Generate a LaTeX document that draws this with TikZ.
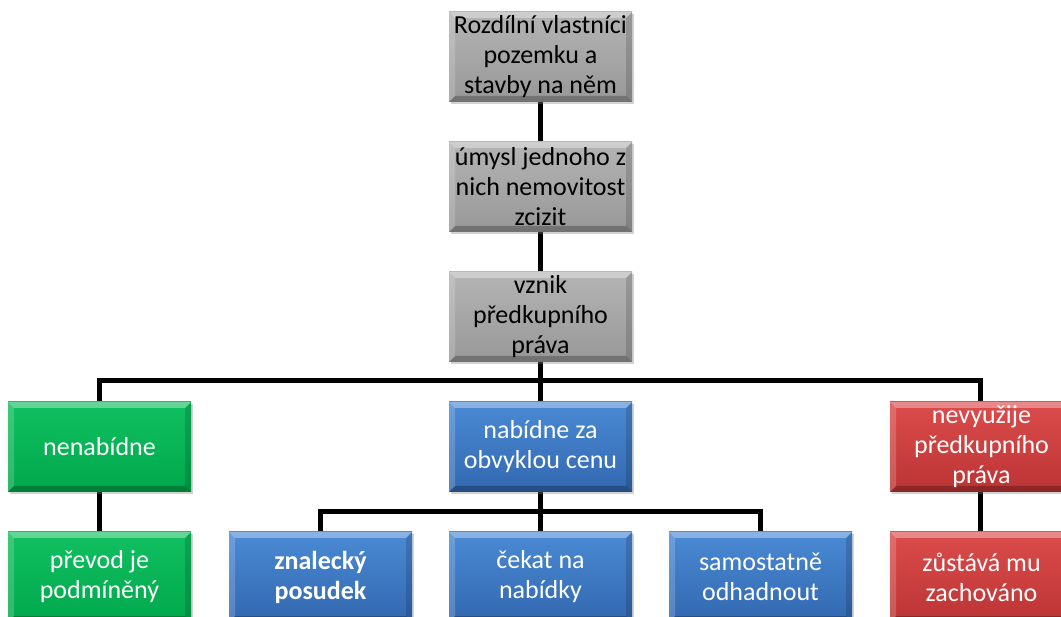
\documentclass[tikz,border=0pt]{standalone}
\usepackage{fontspec}
\setmainfont{Carlito}
\usetikzlibrary{shadows}
\definecolor{grayA}{HTML}{B4B4B4}
\definecolor{grayB}{HTML}{989898}
\definecolor{greenA}{HTML}{10C060}
\definecolor{greenB}{HTML}{00A84C}
\definecolor{blueA}{HTML}{4A8AD4}
\definecolor{blueB}{HTML}{3268B0}
\definecolor{redA}{HTML}{DC4C4C}
\definecolor{redB}{HTML}{BC3434}
\tikzset{
  bevel/.style={path picture={
    \fill[white,opacity=0.35] (path picture bounding box.north west) -- (path picture bounding box.north east)
      -- ([xshift=-6pt,yshift=-6pt]path picture bounding box.north east) -- ([xshift=6pt,yshift=-6pt]path picture bounding box.north west) -- cycle;
    \fill[white,opacity=0.18] (path picture bounding box.north west) -- (path picture bounding box.south west)
      -- ([xshift=6pt,yshift=6pt]path picture bounding box.south west) -- ([xshift=6pt,yshift=-6pt]path picture bounding box.north west) -- cycle;
    \fill[black,opacity=0.25] (path picture bounding box.south west) -- (path picture bounding box.south east)
      -- ([xshift=-6pt,yshift=6pt]path picture bounding box.south east) -- ([xshift=6pt,yshift=6pt]path picture bounding box.south west) -- cycle;
    \fill[black,opacity=0.15] (path picture bounding box.north east) -- (path picture bounding box.south east)
      -- ([xshift=-6pt,yshift=6pt]path picture bounding box.south east) -- ([xshift=-6pt,yshift=-6pt]path picture bounding box.north east) -- cycle;
  }},
  box/.style={rectangle, minimum width=183pt, minimum height=90pt, inner sep=2pt, align=center,
    font=\fontsize{26}{30}\selectfont, bevel,
    drop shadow={opacity=0.35, shadow xshift=1.5pt, shadow yshift=-2.5pt}},
  graybox/.style={box, top color=grayA, bottom color=grayB, text=black},
  greenbox/.style={box, top color=greenA, bottom color=greenB, text=white},
  bluebox/.style={box, top color=blueA, bottom color=blueB, text=white},
  redbox/.style={box, top color=redA, bottom color=redB, text=white},
  conn/.style={line width=5pt, black}
}
\begin{document}
\begin{tikzpicture}[x=1pt,y=-1pt]
\clip (0,0) rectangle (1061,617);
\fill[white] (0,0) rectangle (1061,617);
% connector coordinates
\coordinate (h1l) at (99.5,381);
\coordinate (h1r) at (980,381);
\coordinate (h1m) at (540.5,381);
\coordinate (h2l) at (320.5,512);
\coordinate (h2r) at (760.5,512);
\coordinate (h2m) at (540.5,512);
% connectors drawn first (behind boxes)
\draw[conn] (540.5,57) -- (540.5,187);
\draw[conn] (540.5,187) -- (540.5,317);
\draw[conn] (540.5,317) -- (h1m);
\draw[conn] (99.5,447) -- (h1l) -- (h1r) -- (980,447);
\draw[conn] (h1m) -- (540.5,447);
\draw[conn] (99.5,447) -- (99.5,577);
\draw[conn] (980,447) -- (980,577);
\draw[conn] (540.5,447) -- (h2m);
\draw[conn] (320.5,577) -- (h2l) -- (h2r) -- (760.5,577);
\draw[conn] (h2m) -- (540.5,577);
% nodes
\node[graybox] (a) at (540.5,57) {Rozdílní vlastníci\\pozemku a\\stavby na něm};
\node[graybox] (b) at (540.5,187) {úmysl jednoho z\\nich nemovitost\\zcizit};
\node[graybox] (c) at (540.5,317) {vznik\\předkupního\\práva};
\node[greenbox] (g1) at (99.5,447) {nenabídne};
\node[bluebox] (m1) at (540.5,447) {nabídne za\\obvyklou cenu};
\node[redbox] (r1) at (981.5,447) {nevyužije\\předkupního\\práva};
\node[greenbox] (g2) at (99.5,577) {převod je\\podmíněný};
\node[bluebox] (m2) at (320.5,577) {\textbf{znalecký}\\\textbf{posudek}};
\node[bluebox] (m3) at (540.5,577) {čekat na\\nabídky};
\node[bluebox] (m4) at (760.5,577) {samostatně\\odhadnout};
\node[redbox] (r2) at (981.5,577) {zůstává mu\\zachováno};
\end{tikzpicture}
\end{document}
